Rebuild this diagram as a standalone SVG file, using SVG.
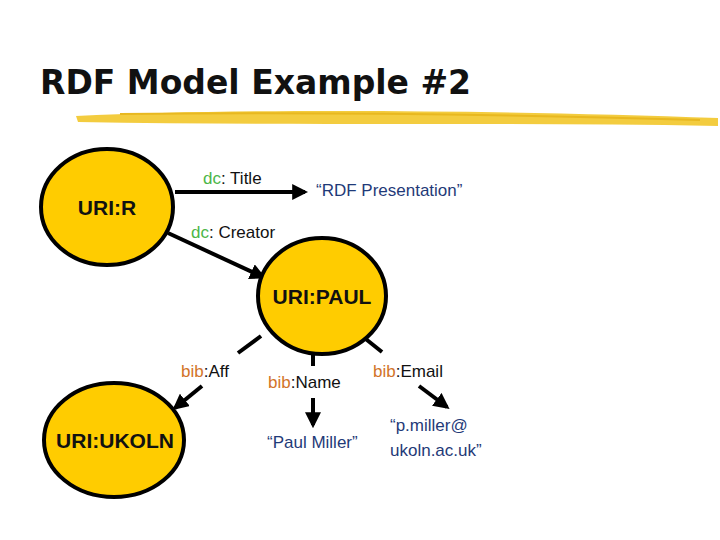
<svg xmlns="http://www.w3.org/2000/svg" width="720" height="540" viewBox="0 0 720 540">
<style>
text{font-family:"Liberation Sans",Arial,sans-serif}
.n{fill:#FFCC00;stroke:#000;stroke-width:4}
.nl{font-size:21px;font-weight:bold;fill:#111;text-anchor:middle}
.e{stroke:#000;stroke-width:4;fill:none}
.lb{font-size:17px;fill:#111}
.g{fill:#4CB648}.o{fill:#D2742A}
.v{font-size:17px;fill:#1F3A78}
</style>
<defs><marker id="a" viewBox="0 0 10 10" refX="8" refY="5" markerWidth="4" markerHeight="4" orient="auto"><path d="M0,0L10,5L0,10z" fill="#000"/></marker></defs>
<rect width="720" height="540" fill="#fff"/>
<text x="40" y="94" font-size="33" font-weight="bold" fill="#111" style="font-family:'DejaVu Sans','Liberation Sans',sans-serif">RDF Model Example #2</text>
<path d="M76,116 C250,108 500,110 718,118 L718,126 C500,122 300,126 78,122 Z" fill="#F2C72A" opacity="0.9"/>
<path d="M120,114 C300,112 500,114 700,120" stroke="#E8B820" stroke-width="2" fill="none"/>
<text class="v" x="150" y="424">N”</text>
<g id="edges">
<line class="e" x1="175" y1="192" x2="305" y2="192" marker-end="url(#a)"/>
<line class="e" x1="168" y1="233" x2="263" y2="277" marker-end="url(#a)"/>
<line class="e" x1="261" y1="336" x2="238" y2="353"/>
<line class="e" x1="202" y1="386" x2="175" y2="408" marker-end="url(#a)"/>
<line class="e" x1="313" y1="353" x2="313" y2="366"/>
<line class="e" x1="313" y1="398" x2="313" y2="425" marker-end="url(#a)"/>
<line class="e" x1="362" y1="336" x2="382" y2="352"/>
<line class="e" x1="419" y1="386" x2="447" y2="407" marker-end="url(#a)"/>
</g>
<text class="lb" x="203" y="184"><tspan class="g">dc</tspan>: Title</text>
<text class="lb" x="191" y="238"><tspan class="g">dc</tspan>: Creator</text>
<text class="v" x="316" y="196">“RDF Presentation”</text>
<text class="lb" x="181" y="377"><tspan class="o">bib</tspan>:Aff</text>
<text class="lb" x="268" y="388"><tspan class="o">bib</tspan>:Name</text>
<text class="lb" x="373" y="377"><tspan class="o">bib</tspan>:Email</text>
<text class="v" x="267" y="448">“Paul Miller”</text>
<text class="v" x="390" y="431">“p.miller@</text>
<text class="v" x="390" y="456">ukoln.ac.uk”</text>
<g id="uri-r"><ellipse class="n" cx="107" cy="207" rx="66" ry="58"/><text class="nl" x="107" y="215">URI:R</text></g>
<g id="uri-paul"><ellipse class="n" cx="322" cy="296" rx="64" ry="58"/><text class="nl" x="322" y="304">URI:PAUL</text></g>
<g id="uri-ukoln"><ellipse class="n" cx="114" cy="440" rx="70" ry="57"/><text class="nl" x="115" y="448">URI:UKOLN</text></g>
</svg>
